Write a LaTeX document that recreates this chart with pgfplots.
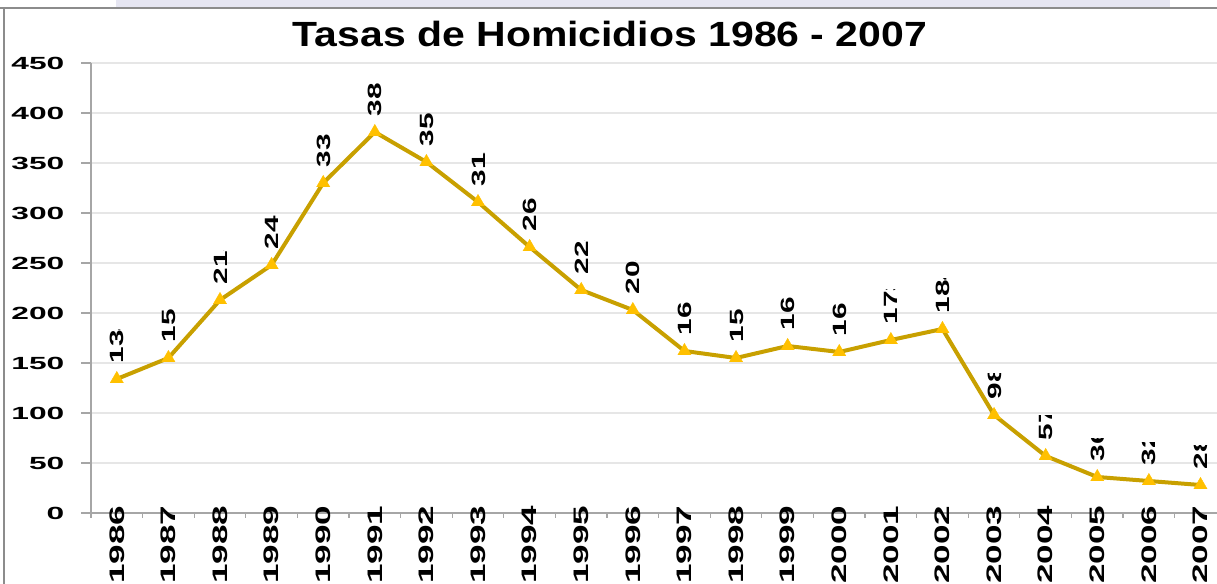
\documentclass[border=0pt]{standalone}
\usepackage{pgfplots}
\pgfplotsset{compat=1.18}
\usepackage{pgfplotstable}
\usepackage{fontspec}
\setmainfont{Liberation Sans}
\usepackage{trimclip}
\definecolor{lineGold}{HTML}{C8A000}
\definecolor{markYellow}{HTML}{FFC000}
\definecolor{axisGray}{HTML}{A6A6A6}
\definecolor{gridGray}{HTML}{E6E6E6}
\definecolor{frameGray}{HTML}{8C8C8C}
\definecolor{band}{HTML}{E6E6F2}

\pgfplotstableread{
year rate clipw
1986 134 10.8
1987 155 10.8
1988 213 10.8
1989 248 10.8
1990 330 10.8
1991 381 10.8
1992 351 10.8
1993 311 10.8
1994 266 10.8
1995 223 10.8
1996 203 10.8
1997 162 10.8
1998 155 10.8
1999 167 10.8
2000 161 10.8
2001 173 11.2
2002 184 11.2
2003 98 8.3
2004 57 8.0
2005 36 7.2
2006 32 7.4
2007 28 7.6
}\datatable

\begin{document}
\begin{tikzpicture}
\path[use as bounding box] (0,0) rectangle (608.5pt,292pt);
\fill[band] (58pt,288pt) rectangle (585pt,292pt);
\draw[frameGray, line width=1pt] (0,288pt) -- (608.5pt,288pt);
\draw[frameGray, line width=1pt] (2pt,0) -- (2pt,288pt);
\node[anchor=base, font=\fontsize{17.5}{20}\selectfont\bfseries, xscale=1.17, inner sep=0pt] at (305pt,268.5pt) {Tasas de Homicidios 1986 - 2007};
\begin{axis}[
  at={(45.5pt,35.5pt)}, anchor=south west, scale only axis,
  width=563pt, height=225pt,
  xmin=1985.5, xmax=2007.32, ymin=0, ymax=450,
  axis lines*=left,
  axis line style={axisGray, line width=0.6pt},
  ytick={0,50,...,450},
  xtick={1986,...,2007},
  xtick style={draw=none},
  extra x ticks={1985.5,1986.5,...,2007.5},
  extra x tick labels={},
  extra x tick style={major tick length=2.5pt, xtick style={draw=axisGray, line width=0.6pt}},
  ymajorgrids, major grid style={gridGray, line width=0.6pt},
  ytick style={axisGray, line width=0.6pt},
  major tick length=5pt,
  tick align=outside,
  /pgf/number format/assume math mode=true,
  /pgf/number format/1000 sep={},
  yticklabel style={font=\fontsize{8.8}{10}\selectfont\bfseries, xshift=-8pt, xscale=1.8, anchor=east, inner sep=0pt},
  xticklabel style={font=\fontsize{10.5}{12}\selectfont\bfseries, yshift=9pt, rotate=90, xscale=1.67, anchor=east, inner sep=0pt},
  visualization depends on={\thisrow{clipw} \as \clipw},
  nodes near coords={\clipbox*{0pt -1pt \clipw pt 8pt}{\pgfmathprintnumber{\pgfplotspointmeta}}},
  every node near coord/.append style={font=\fontsize{9.6}{10}\selectfont\bfseries, text=black, rotate=90, xscale=1.55, anchor=west, inner xsep=5pt, inner ysep=0pt},
  clip=false,
]
\addplot[color=lineGold, line width=2pt, mark=triangle*, mark size=3.8pt,
  mark options={fill=markYellow, draw=markYellow, line width=0.2pt, solid}]
  table[x=year, y=rate] {\datatable};
\end{axis}
\end{tikzpicture}
\end{document}
